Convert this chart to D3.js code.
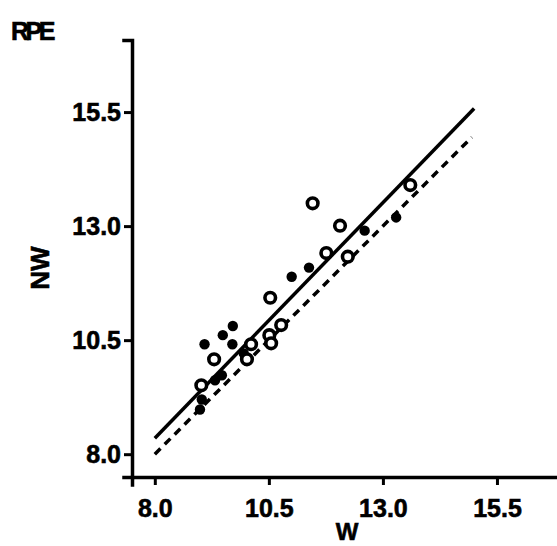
<!DOCTYPE html>
<html>
<head>
<meta charset="utf-8">
<script src="https://cdn.jsdelivr.net/npm/d3@7.9.0/dist/d3.min.js"></script>
<style>
  body { margin: 0; background: #fff; }
  svg text { font-family: "Liberation Sans", Arial, sans-serif; font-weight: bold; fill: #000; }
</style>
</head>
<body>
<svg id="chart" width="557" height="546"></svg>
<script>
// tick labels
const xTicks = [8.0, 10.5, 13.0, 15.5];
const yTicks = [8.0, 10.5, 13.0, 15.5];

// open circles
const openW  = [11.46, 13.60, 12.06, 11.76, 12.23, 10.53, 10.77, 10.51, 10.55, 10.11, 9.30, 10.02, 9.02];
const openNW = [13.50, 13.90, 13.01, 12.41, 12.33, 11.43, 10.83, 10.61, 10.43, 10.41, 10.08, 10.08, 9.51];

// filled circles
const fillW  = [12.60, 13.29, 11.38, 11.00, 9.71, 9.49, 9.09, 9.70, 9.95, 9.47, 9.32, 9.03, 8.99];
const fillNW = [12.90, 13.19, 12.09, 11.89, 10.81, 10.61, 10.41, 10.41, 10.21, 9.73, 9.62, 9.20, 8.98];

// regression line (solid) and identity line (dashed)
const fitLine = [[8.0, 8.35], [15.0, 15.58]];
const idLine  = [[8.0, 8.0], [14.95, 14.95]];

const svg = d3.select('#chart');

const x = d3.scaleLinear().domain([7.5, 16.86]).range([132, 559]);
const y = d3.scaleLinear().domain([7.5, 17.08]).range([477, 40]);

// lines
const line = d3.line().x(d => x(d[0])).y(d => y(d[1]));
svg.append('path')
    .attr('d', line(idLine))
    .attr('fill', 'none')
    .attr('stroke', '#000')
    .attr('stroke-width', 3.5)
    .attr('stroke-dasharray', '8,6');
svg.append('path')
    .attr('d', line(fitLine))
    .attr('fill', 'none')
    .attr('stroke', '#000')
    .attr('stroke-width', 3.5);

// points
svg.append('g').selectAll('circle')
    .data(d3.zip(fillW, fillNW))
    .join('circle')
    .attr('cx', d => x(d[0]))
    .attr('cy', d => y(d[1]))
    .attr('r', 5.2)
    .attr('fill', '#000');

svg.append('g').selectAll('circle')
    .data(d3.zip(openW, openNW))
    .join('circle')
    .attr('cx', d => x(d[0]))
    .attr('cy', d => y(d[1]))
    .attr('r', 5.3)
    .attr('fill', '#fff')
    .attr('stroke', '#000')
    .attr('stroke-width', 3.6);

// axes
const xAxis = d3.axisBottom(x).tickValues(xTicks).tickFormat(d3.format('.1f')).tickSize(8).tickPadding(14);
const yAxis = d3.axisLeft(y).tickValues(yTicks).tickFormat(d3.format('.1f')).tickSize(8).tickPadding(3);

const gx = svg.append('g').attr('transform', `translate(0,${y(7.5)})`).call(xAxis);
const gy = svg.append('g').attr('transform', `translate(${x(7.5)},0)`).call(yAxis);

[gx, gy].forEach(g => {
    g.select('.domain').attr('stroke-width', 3.5).attr('stroke-linecap', 'square');
    g.selectAll('.tick line').attr('stroke-width', 3);
    g.selectAll('.tick text')
        .attr('font-size', 25)
        .style('font-family', '"Liberation Sans", Arial, sans-serif')
        .style('font-weight', 'bold')
        .attr('stroke', '#000')
        .attr('stroke-width', 0.6);
});

// axis titles
svg.append('text')
    .attr('x', 347).attr('y', 540)
    .attr('text-anchor', 'middle')
    .attr('font-size', 24)
    .attr('stroke', '#000').attr('stroke-width', 0.6)
    .text('W');

svg.append('text')
    .attr('transform', 'translate(49,268) rotate(-90)')
    .attr('text-anchor', 'middle')
    .attr('font-size', 26)
    .attr('stroke', '#000').attr('stroke-width', 0.6)
    .text('NW');

svg.append('text')
    .attr('x', 11).attr('y', 40)
    .attr('font-size', 25)
    .attr('letter-spacing', -3.5)
    .attr('stroke', '#000').attr('stroke-width', 0.6)
    .text('RPE');
</script>
</body>
</html>
